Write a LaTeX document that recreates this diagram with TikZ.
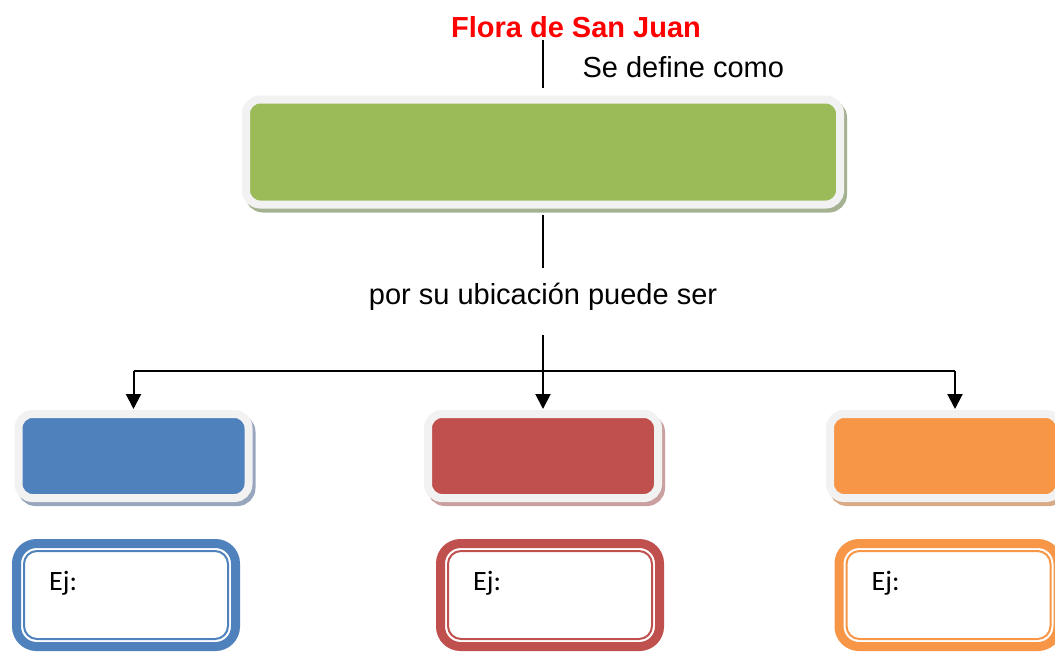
\documentclass[tikz,border=0pt]{standalone}
\usepackage{fontspec}
\setmainfont{Liberation Sans}
\newfontfamily\ejfont{Carlito}
\usetikzlibrary{arrows.meta}
\definecolor{marco}{HTML}{F2F2F2}
\definecolor{verde}{HTML}{9BBB59}
\definecolor{azul}{HTML}{4F81BD}
\definecolor{rojo}{HTML}{C0504D}
\definecolor{naranja}{HTML}{F79646}
\definecolor{verdesombra}{HTML}{A5B292}
\definecolor{azulsombra}{HTML}{97A6BD}
\definecolor{rojosombra}{HTML}{C9A09F}
\definecolor{naranjasombra}{HTML}{D8AA86}
\tikzstyle{every node}=[font=\fontsize{29}{34}\selectfont]
\tikzstyle{tile}=[rounded corners=14pt, draw=marco, line width=8pt, minimum width=230pt, minimum height=84pt, inner sep=0pt]
\tikzstyle{ejframe}=[rounded corners=20pt, line width=9pt, minimum width=219pt, minimum height=103pt, inner sep=0pt]
\tikzstyle{ejline}=[rounded corners=13pt, line width=2pt, minimum width=204pt, minimum height=88pt, inner sep=0pt]
\tikzstyle{ejtext}=[font=\ejfont\fontsize{28}{32}\selectfont, anchor=west, inner sep=0pt]
\tikzstyle{link}=[line width=2pt]
\tikzstyle{drop}=[link, -{Triangle[width=15pt, length=15pt]}]
\tikzset{tilesombra/.style={preaction={fill=#1, draw=#1, transform canvas={shift={(3pt,-4pt)}}}}}

\begin{document}
\begin{tikzpicture}[x=1pt, y=-1pt]
    \clip (0,0) rectangle (1055,651);
% Title
    \node[font=\fontsize{29}{34}\selectfont\bfseries, red] (titulo) at (576,27) {Flora de San Juan};
    \node[anchor=west] (define) at (579,67) {Se define como};
% Boxes
    \node[tile, fill=verde, tilesombra=verdesombra, minimum width=594pt, minimum height=105pt] (concepto) at (543,152) {};
    \node (ubicacion) at (543,297) {por su ubicación puede ser};
    \node[tile, fill=azul, tilesombra=azulsombra] (tipoA) at (133.5,456) {};
    \node[tile, fill=rojo, tilesombra=rojosombra] (tipoB) at (543,456) {};
    \node[tile, fill=naranja, tilesombra=naranjasombra] (tipoC) at (945,456) {};
% Examples
    \node[ejframe, draw=azul] (ejA) at (126,595) {};
    \node[ejline, draw=azul] (ejAin) at (ejA) {};
    \node[ejtext] (ejAtxt) at ([xshift=26pt, yshift=12pt]ejAin.west) {Ej:};
    \node[ejframe, draw=rojo] (ejB) at (550,595) {};
    \node[ejline, draw=rojo] (ejBin) at (ejB) {};
    \node[ejtext] (ejBtxt) at ([xshift=26pt, yshift=12pt]ejBin.west) {Ej:};
    \node[ejframe, draw=naranja] (ejC) at (948.5,595) {};
    \node[ejline, draw=naranja] (ejCin) at (ejC) {};
    \node[ejtext] (ejCtxt) at ([xshift=26pt, yshift=12pt]ejCin.west) {Ej:};
% Connectors
    \coordinate (tallo) at (543,40);
    \coordinate (ramaA) at (133.5,371);
    \coordinate (ramaC) at (955,371);
    \draw[link] (tallo) -- ([yshift=8pt]concepto.north);
    \draw[link] ([yshift=-6pt]concepto.south) -- ([yshift=12pt]ubicacion.north);
    \draw[drop] ([yshift=-21pt]ubicacion.south) -- ([yshift=1pt]tipoB.north);
    \draw[link] (ramaA) -- (ramaC);
    \draw[drop] (ramaA) -- ([yshift=1pt]tipoA.north);
    \draw[drop] (ramaC) -- ([yshift=1pt]ramaC |- tipoC.north);
\end{tikzpicture}
\end{document}
